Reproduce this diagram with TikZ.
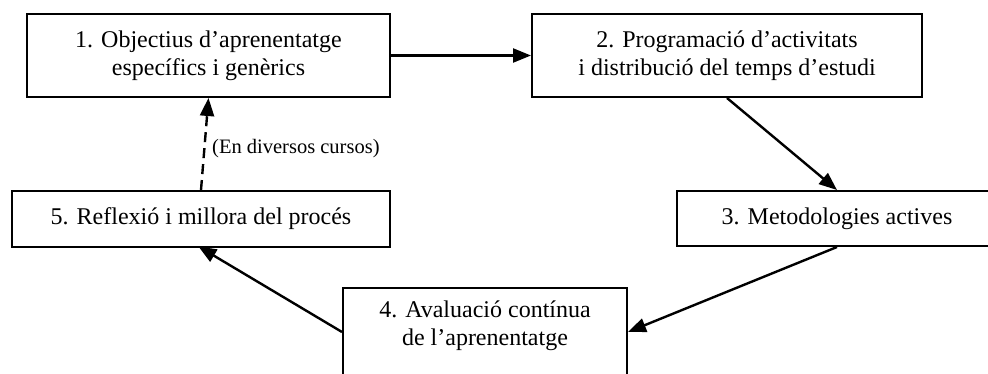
\documentclass[tikz,border=0pt]{standalone}
\usepackage{fontspec}
\setmainfont{Liberation Serif}
\usetikzlibrary{arrows.meta}
\begin{document}
\begin{tikzpicture}[x=1pt,y=-1pt,
  box/.style={draw=black, line width=2pt, fill=white, inner sep=0pt, align=center,
    font=\fontsize{24}{28}\selectfont},
  conn/.style={line width=2.4pt, -{Triangle[length=18pt,width=14pt]}},
  dconn/.style={conn, dash pattern=on 10pt off 6pt},
  lbl/.style={font=\fontsize{20.5}{24}\selectfont, inner sep=0pt}]
\useasboundingbox (0,0) rectangle (988,374);
\node[box, minimum width=363, minimum height=83] (b1) at (208.5,55.5)
  {1. Objectius d’aprenentatge\\específics i genèrics};
\node[box, minimum width=390, minimum height=83] (b2) at (727,55.5)
  {2. Programació d’activitats\\i distribució del temps d’estudi};
\node[box, minimum width=320, minimum height=55] (b3) at (837,218.5)
  {3. Metodologies actives};
\node[box, minimum width=284, minimum height=88] (b4) at (485,332) {};
\node[box, draw=none, fill=none] (t4) at (485,326)
  {4. Avaluació contínua\\de l’aprenentatge};
\node[box, minimum width=378, minimum height=56] (b5) at (201,219)
  {5. Reflexió i millora del procés};
\node[lbl, anchor=west] (l51) at (212,149) {(En diversos cursos)};
\draw[conn] (b1.east) -- (b2.west);
\draw[conn] (b2.south) -- (b3.north);
\draw[conn] (b3.south) -- (b4.east);
\draw[conn, shorten >=-3pt] (b4.west) -- (b5.south);
\draw[dconn] (b5.north) -- (b1.south);
\end{tikzpicture}
\end{document}
